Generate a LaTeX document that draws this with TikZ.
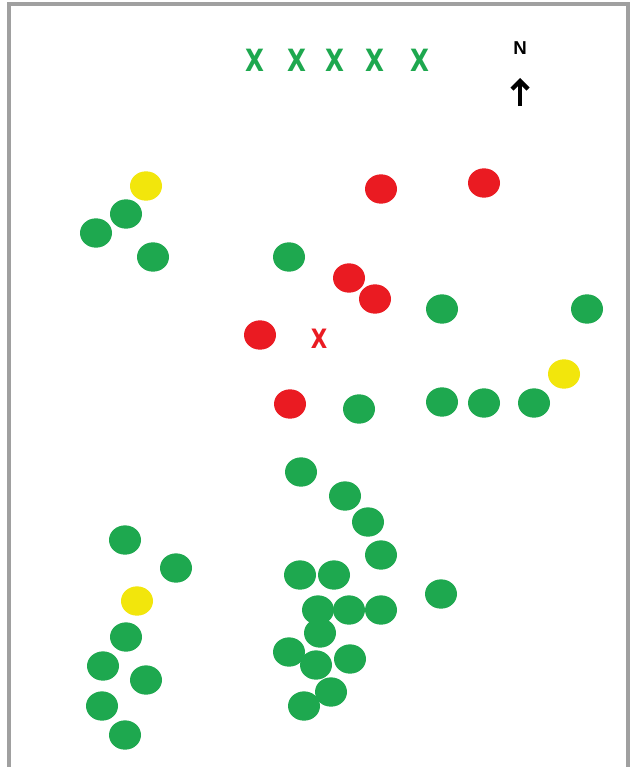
\documentclass[tikz,border=0pt]{standalone}
\usepackage{fontspec}
\setmainfont{Liberation Sans}
\newfontfamily\markfont{DejaVu Sans}
\usetikzlibrary{shapes.geometric,arrows.meta}
\definecolor{dgreen}{HTML}{1EA84F}
\definecolor{dred}{HTML}{EA1B22}
\definecolor{dyellow}{HTML}{F2E60C}
\definecolor{framegray}{HTML}{A0A0A0}
\newcommand{\narrowx}[1]{\scalebox{0.8}[1]{#1}}
\tikzset{
  spot/.style={ellipse, inner sep=0pt, minimum width=24pt, minimum height=22pt},
  gspot/.style={spot, fill=dgreen},
  rspot/.style={spot, fill=dred},
  yspot/.style={spot, fill=dyellow},
  gmark/.style={text=dgreen, font=\markfont\bfseries\fontsize{23}{23}\selectfont, inner sep=0pt},
  rmark/.style={text=dred, font=\markfont\bfseries\fontsize{20}{20}\selectfont, inner sep=0pt},
}
\begin{document}
\begin{tikzpicture}[x=0.75pt,y=-0.75pt]
\useasboundingbox (0,0) rectangle (633,767);
\fill[white] (0,0) rectangle (633,767);
% frame
\draw[framegray, line width=2.5pt] (9,767) -- (9,4) -- (628,4) -- (628,767);
% top X row
\node[gmark] (x1) at (255,60) {\narrowx{X}};
\node[gmark] (x2) at (297,60) {\narrowx{X}};
\node[gmark] (x3) at (335,60) {\narrowx{X}};
\node[gmark] (x4) at (375,60) {\narrowx{X}};
\node[gmark] (x5) at (420,60) {\narrowx{X}};
% north arrow
\node[font=\bfseries\fontsize{14}{14}\selectfont, inner sep=0pt] (north) at (520,48) {N};
\coordinate (nb) at (520,106);
\coordinate (nt) at (520,78);
\draw[line width=3.2pt, -{Straight Barb[length=6pt,width=12pt,line width=3.2pt]}] (nb) -- (nt);
% red X
\node[rmark] (rx) at (319,339) {\narrowx{X}};
% yellow
\node[yspot] (y1) at (146,186) {};
\node[yspot] (y2) at (564,374) {};
\node[yspot] (y3) at (137,601) {};
% red
\node[rspot] (r1) at (381,189) {};
\node[rspot] (r2) at (484,183) {};
\node[rspot] (r3) at (349,278) {};
\node[rspot] (r4) at (375,299) {};
\node[rspot] (r5) at (260,335) {};
\node[rspot] (r6) at (290,404) {};
% green
\node[gspot] (g1) at (126,214) {};
\node[gspot] (g2) at (96,233) {};
\node[gspot] (g3) at (153,257) {};
\node[gspot] (g4) at (289,257) {};
\node[gspot] (g5) at (442,309) {};
\node[gspot] (g6) at (587,309) {};
\node[gspot] (g7) at (359,409) {};
\node[gspot] (g8) at (442,402) {};
\node[gspot] (g9) at (484,403) {};
\node[gspot] (g10) at (534,403) {};
\node[gspot] (g11) at (301,472) {};
\node[gspot] (g12) at (345,496) {};
\node[gspot] (g13) at (368,522) {};
\node[gspot] (g14) at (381,555) {};
\node[gspot] (g15) at (300,575) {};
\node[gspot] (g16) at (334,575) {};
\node[gspot] (g17) at (441,594) {};
\node[gspot] (g18) at (320,633) {};
\node[gspot] (g19) at (318,610) {};
\node[gspot] (g20) at (349,610) {};
\node[gspot] (g21) at (381,610) {};
\node[gspot] (g22) at (289,652) {};
\node[gspot] (g23) at (316,665) {};
\node[gspot] (g24) at (350,659) {};
\node[gspot] (g25) at (331,692) {};
\node[gspot] (g26) at (304,706) {};
\node[gspot] (g27) at (125,540) {};
\node[gspot] (g28) at (176,568) {};
\node[gspot] (g29) at (126,637) {};
\node[gspot] (g30) at (103,666) {};
\node[gspot] (g31) at (146,680) {};
\node[gspot] (g32) at (102,706) {};
\node[gspot] (g33) at (125,735) {};
\end{tikzpicture}
\end{document}
